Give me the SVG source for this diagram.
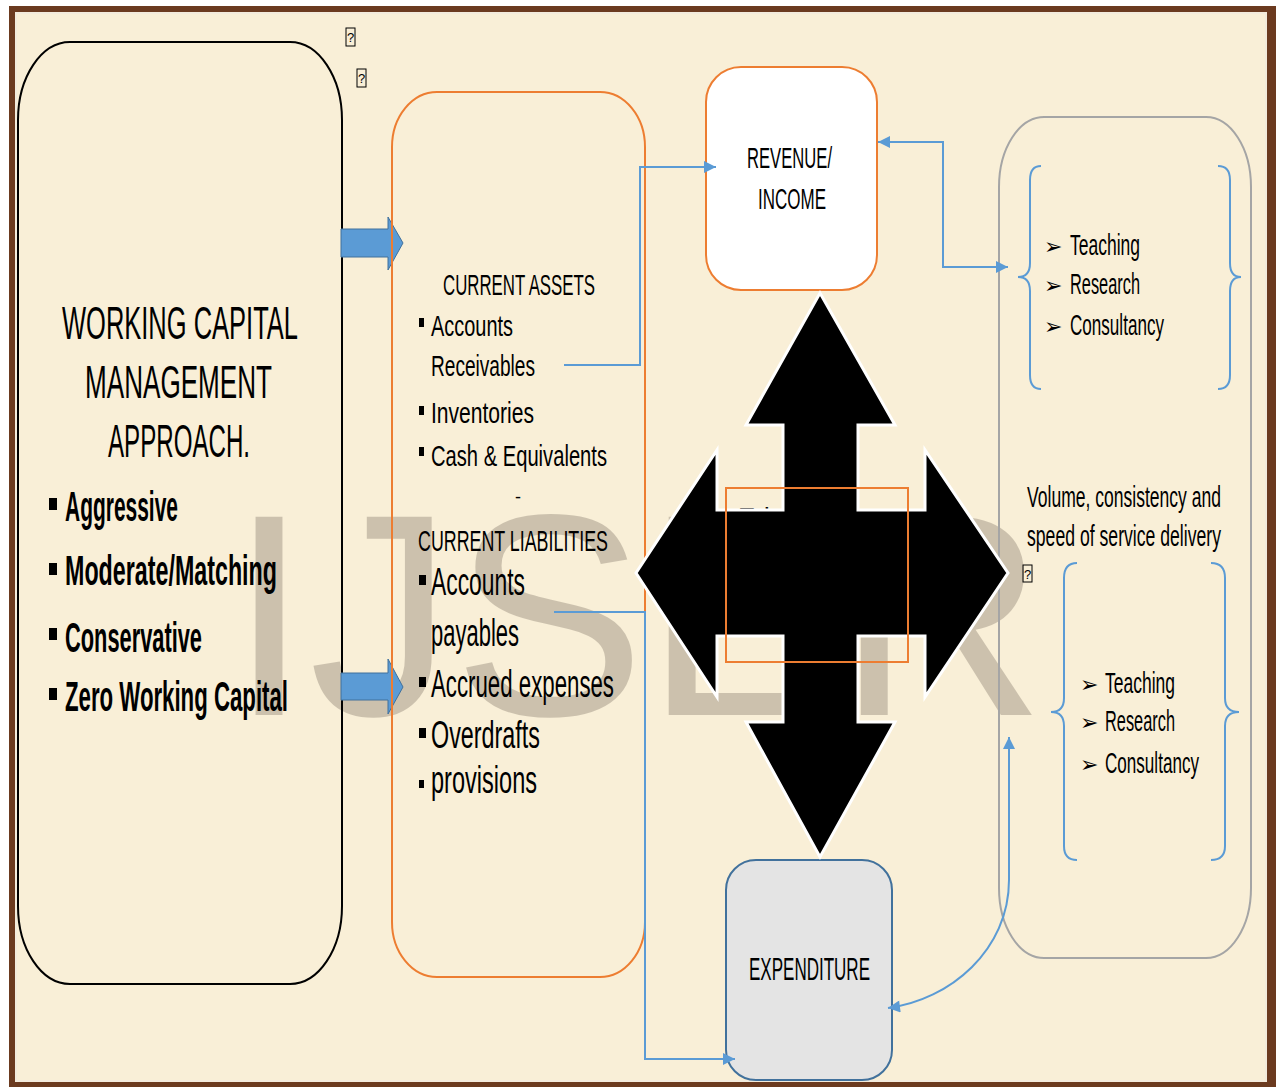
<svg xmlns="http://www.w3.org/2000/svg" width="1276" height="1087" viewBox="0 0 1276 1087">
<style>
.t{font-family:"Liberation Sans",Arial,sans-serif;fill:#000}
.b{font-weight:bold}
.sym{font-family:"DejaVu Sans",sans-serif;fill:#000;font-size:22px}
.con{fill:none;stroke:#5b9bd5;stroke-width:2}
.sq{fill:#000}
.brace{fill:none;stroke:#5b9bd5;stroke-width:2}
.tofu{fill:none;stroke:#000;stroke-width:1}
.blk{fill:#5b9bd5;stroke:#41719c;stroke-width:1}
</style>
<defs>
<marker id="ah" viewBox="0 0 10 10" refX="10" refY="5" markerWidth="13" markerHeight="12" markerUnits="userSpaceOnUse" orient="auto-start-reverse">
<path d="M0 0 L10 5 L0 10 Z" fill="#5b9bd5"/>
</marker>
</defs>
<rect x="0" y="0" width="1276" height="1087" fill="#ffffff"/>
<rect x="9" y="6" width="1280" height="1095" fill="#6b3a1f"/>
<rect x="15" y="12" width="1252" height="1070" fill="#f3ebdc"/>
<rect x="17" y="14" width="1248" height="1066" fill="#f9efd7"/>
<g id="watermark">
<text x="229" y="715" font-family="Liberation Sans, Arial, sans-serif" font-size="288" fill="#a09585" opacity="0.5">IJSER</text>
</g>
<g id="approach">
<rect x="18" y="42" width="324" height="942" rx="52" ry="78" fill="none" stroke="#000" stroke-width="2"/>
<text class="t" x="62" y="339" font-size="46" textLength="236" lengthAdjust="spacingAndGlyphs">WORKING CAPITAL</text>
<text class="t" x="85" y="398" font-size="46" textLength="187" lengthAdjust="spacingAndGlyphs">MANAGEMENT</text>
<text class="t" x="108" y="457" font-size="46" textLength="142" lengthAdjust="spacingAndGlyphs">APPROACH.</text>
<rect class="sq" x="49" y="498" width="8" height="12"/>
<text class="t b" x="65" y="521" font-size="42" textLength="113" lengthAdjust="spacingAndGlyphs">Aggressive</text>
<rect class="sq" x="49" y="563" width="8" height="12"/>
<text class="t b" x="65" y="585" font-size="42" textLength="212" lengthAdjust="spacingAndGlyphs">Moderate/Matching</text>
<rect class="sq" x="49" y="628" width="8" height="12"/>
<text class="t b" x="65" y="652" font-size="42" textLength="137" lengthAdjust="spacingAndGlyphs">Conservative</text>
<rect class="sq" x="49" y="688" width="8" height="12"/>
<text class="t b" x="65" y="711" font-size="42" textLength="223" lengthAdjust="spacingAndGlyphs">Zero Working Capital</text>
</g>
<g id="tofu-top">
<rect class="tofu" x="346" y="28" width="9" height="18"/>
<text class="t" x="347" y="42" font-size="13">?</text>
<rect class="tofu" x="357" y="69" width="9" height="18"/>
<text class="t" x="358" y="83" font-size="13">?</text>
</g>
<g id="block-arrows">
<path class="blk" d="M341 229 L388 229 L388 217 L403 243 L388 270 L388 257 L341 257 Z"/>
<path class="blk" d="M341 673 L388 673 L388 659 L403 687 L388 714 L388 700 L341 700 Z"/>
</g>
<g id="working-capital">
<rect x="392" y="92" width="253" height="885" rx="45" ry="55" fill="none" stroke="#ed7d31" stroke-width="2"/>
<text class="t" x="443" y="295" font-size="30" textLength="152" lengthAdjust="spacingAndGlyphs">CURRENT ASSETS</text>
<rect class="sq" x="419" y="318" width="5" height="9"/>
<text class="t" x="431" y="336" font-size="30" textLength="82" lengthAdjust="spacingAndGlyphs">Accounts</text>
<text class="t" x="431" y="376" font-size="30" textLength="104" lengthAdjust="spacingAndGlyphs">Receivables</text>
<rect class="sq" x="419" y="406" width="5" height="9"/>
<text class="t" x="431" y="423" font-size="30" textLength="103" lengthAdjust="spacingAndGlyphs">Inventories</text>
<rect class="sq" x="419" y="447" width="5" height="9"/>
<text class="t" x="431" y="466" font-size="30" textLength="176" lengthAdjust="spacingAndGlyphs">Cash &amp; Equivalents</text>
<text class="t" x="515" y="503" font-size="18">-</text>
<text class="t" x="418" y="551" font-size="30" textLength="190" lengthAdjust="spacingAndGlyphs">CURRENT LIABILITIES</text>
<rect class="sq" x="419" y="575" width="7" height="10"/>
<text class="t" x="431" y="595" font-size="38" textLength="94" lengthAdjust="spacingAndGlyphs">Accounts</text>
<text class="t" x="431" y="646" font-size="38" textLength="88" lengthAdjust="spacingAndGlyphs">payables</text>
<rect class="sq" x="419" y="677" width="7" height="10"/>
<text class="t" x="431" y="697" font-size="38" textLength="183" lengthAdjust="spacingAndGlyphs">Accrued expenses</text>
<rect class="sq" x="419" y="728" width="7" height="10"/>
<text class="t" x="431" y="748" font-size="38" textLength="109" lengthAdjust="spacingAndGlyphs">Overdrafts</text>
<rect class="sq" x="419" y="780" width="5" height="8"/>
<text class="t" x="431" y="793" font-size="38" textLength="106" lengthAdjust="spacingAndGlyphs">provisions</text>
</g>
<g id="revenue">
<rect x="706" y="67" width="171" height="223" rx="35" ry="35" fill="#ffffff" stroke="#ed7d31" stroke-width="2"/>
<text class="t" x="747" y="168" font-size="30" textLength="85" lengthAdjust="spacingAndGlyphs">REVENUE/</text>
<text class="t" x="758" y="209" font-size="30" textLength="68" lengthAdjust="spacingAndGlyphs">INCOME</text>
</g>
<g id="services">
<rect x="999" y="117" width="252" height="841" rx="45" ry="70" fill="none" stroke="#a5a5a5" stroke-width="2"/>
<path class="brace" d="M1041 166 Q1030 166 1030 180 L1030 263 Q1030 277 1018 277 Q1030 277 1030 291 L1030 375 Q1030 389 1041 389"/>
<path class="brace" d="M1218 166 Q1230 166 1230 180 L1230 263 Q1230 277 1241 277 Q1230 277 1230 291 L1230 375 Q1230 389 1218 389"/>
<text class="sym" x="1044" y="254">➢</text>
<text class="t" x="1070" y="255" font-size="29" textLength="70" lengthAdjust="spacingAndGlyphs">Teaching</text>
<text class="sym" x="1044" y="293">➢</text>
<text class="t" x="1070" y="294" font-size="29" textLength="70" lengthAdjust="spacingAndGlyphs">Research</text>
<text class="sym" x="1044" y="334">➢</text>
<text class="t" x="1070" y="335" font-size="29" textLength="94" lengthAdjust="spacingAndGlyphs">Consultancy</text>
<text class="t" x="1027" y="507" font-size="29" textLength="194" lengthAdjust="spacingAndGlyphs">Volume, consistency and</text>
<text class="t" x="1027" y="546" font-size="29" textLength="194" lengthAdjust="spacingAndGlyphs">speed of service delivery</text>
<rect class="tofu" x="1023" y="565" width="9" height="17"/>
<text class="t" x="1024" y="579" font-size="13">?</text>
<path class="brace" d="M1077 563 Q1064 563 1064 578 L1064 698 Q1064 712 1051 712 Q1064 712 1064 726 L1064 846 Q1064 860 1077 860"/>
<path class="brace" d="M1211 563 Q1225 563 1225 578 L1225 698 Q1225 712 1239 712 Q1225 712 1225 726 L1225 846 Q1225 860 1211 860"/>
<text class="sym" x="1080" y="692">➢</text>
<text class="t" x="1105" y="693" font-size="29" textLength="70" lengthAdjust="spacingAndGlyphs">Teaching</text>
<text class="sym" x="1080" y="730">➢</text>
<text class="t" x="1105" y="731" font-size="29" textLength="70" lengthAdjust="spacingAndGlyphs">Research</text>
<text class="sym" x="1080" y="772">➢</text>
<text class="t" x="1105" y="773" font-size="29" textLength="94" lengthAdjust="spacingAndGlyphs">Consultancy</text>
</g>
<g id="expenditure">
<rect x="726" y="860" width="166" height="220" rx="30" ry="30" fill="#e4e4e4" stroke="#41719c" stroke-width="2"/>
<text class="t" x="749" y="980" font-size="31" textLength="121" lengthAdjust="spacingAndGlyphs">EXPENDITURE</text>
</g>
<g id="connectors">
<path class="con" d="M564 365 L640 365 L640 167 L716 167" marker-end="url(#ah)"/>
<path class="con" d="M878 142 L943 142 L943 267 L1008 267" marker-start="url(#ah)" marker-end="url(#ah)"/>
<path class="con" d="M554 612 L645 612 L645 1059 L735 1059" marker-end="url(#ah)"/>
<path class="con" d="M1009 737 L1009 880 C1009 950 950 1000 888 1008" marker-start="url(#ah)" marker-end="url(#ah)"/>
</g>
<g id="center">
<text class="t" x="738" y="526" font-size="26">Edu</text>
<path d="M820 293 L895 425 L858 425 L858 510 L925 510 L925 450 L1008 573 L925 697 L925 636 L858 636 L858 722 L895 722 L820 857 L746 722 L783 722 L783 636 L717 636 L717 697 L636 573 L717 450 L717 510 L783 510 L783 425 L746 425 Z" fill="#000" stroke="#ffffff" stroke-width="3" stroke-linejoin="miter"/>
<rect x="726" y="488" width="182" height="174" fill="none" stroke="#ed7d31" stroke-width="2"/>
</g>
</svg>
